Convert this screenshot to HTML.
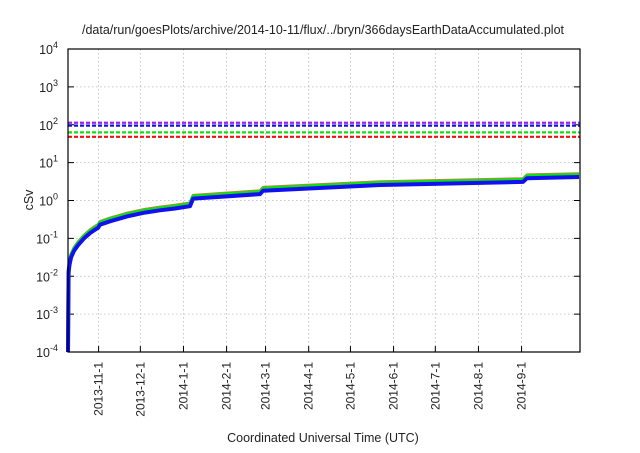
<!DOCTYPE html>
<html><head><meta charset="utf-8"><style>
body{margin:0;background:#fff;width:640px;height:448px;overflow:hidden}
svg text{font-family:"Liberation Sans",Arial,sans-serif;fill:#222}
</style></head><body>
<svg id="chart" width="640" height="448" viewBox="0 0 640 448" xmlns="http://www.w3.org/2000/svg">
<text x="323" y="34" font-size="12.5" text-anchor="middle">/data/run/goesPlots/archive/2014-10-11/flux/../bryn/366daysEarthDataAccumulated.plot</text>
<text transform="translate(33,200) rotate(-90)" font-size="12.5" text-anchor="middle">cSv</text>
<text x="323" y="442" font-size="12.5" text-anchor="middle">Coordinated Universal Time (UTC)</text>
<g id="grid"></g><g id="ticks"></g><g id="series"></g>
<rect x="68" y="49" width="512" height="303" fill="none" stroke="#000" stroke-width="1.2"/>
</svg>
<script>
const tickLabels=["2013-11-1","2013-12-1","2014-1-1","2014-2-1","2014-3-1","2014-4-1","2014-5-1","2014-6-1","2014-7-1","2014-8-1","2014-9-1"];
const tickDays=[22,52,83,114,142,173,203,234,264,295,326];
const yDecades=[-4,-3,-2,-1,0,1,2,3,4];
const days=[0,0.4,1.1,2.2,4.3,7.2,11.5,15.8,19.4,21.6,23,30.2,42.4,55.3,66.1,76.9,87.7,89.9,138,140.2,224.3,327,329.9,367.3];
const blueLog=[-4,-1.9,-1.7,-1.5,-1.33,-1.18,-1.0,-0.86,-0.77,-0.72,-0.64,-0.55,-0.42,-0.32,-0.26,-0.21,-0.15,0.05,0.17,0.26,0.41,0.49,0.59,0.62];
const limitNames=["limit-purple","limit-blue","limit-green","limit-red"];
const limitValues=[113,95,63,48];
const limitColors=["#a020f0","#1010e0","#10e010","#f01010"];
const X0=68,X1=580,Y0=49,Y1=352,DMAX=368;
const xs=d=>X0+(d/DMAX)*(X1-X0);
const ys=l=>Y1-(l+4)/8*(Y1-Y0);
const NS="http://www.w3.org/2000/svg";
function mk(t,p,a){const e=document.createElementNS(NS,t);for(const k in a)e.setAttribute(k,a[k]);p.appendChild(e);return e;}
const grid=document.getElementById('grid'),ticks=document.getElementById('ticks'),series=document.getElementById('series');
yDecades.forEach(d=>{const y=ys(d);
 if(d>-4&&d<4){const g=mk('line',grid,{x1:X0,x2:X1,y1:y,y2:y,stroke:'#bbb','stroke-width':0.8,'stroke-dasharray':'1.5,2.5'});
 }
 const t=mk('line',ticks,{x1:X0,x2:X0+6,y1:y,y2:y,stroke:'#000'});
 const t2=mk('line',ticks,{x1:X1-6,x2:X1,y1:y,y2:y,stroke:'#000'});
 const tx=mk('text',ticks,{x:58,y:y+5,'font-size':12.5,'text-anchor':'end'});
 
 tx.textContent='10';const s=mk('tspan',tx,{dy:-6,'font-size':9});s.textContent=String(d);
});
tickDays.forEach((d,i)=>{const x=xs(d);
 const g=mk('line',grid,{x1:x,x2:x,y1:Y0,y2:Y1,stroke:'#bbb','stroke-width':0.8,'stroke-dasharray':'1.5,2.5'});
 
 const t=mk('line',ticks,{x1:x,x2:x,y1:Y1-6,y2:Y1,stroke:'#000'});
 const tx=mk('text',ticks,{transform:`translate(${x+4},362) rotate(-90)`,'font-size':12,'text-anchor':'end'});
 
 tx.textContent=tickLabels[i];
});
limitValues.forEach((v,i)=>{const y=ys(Math.log10(v));
 const l=mk('line',series,{x1:X0,x2:X1,y1:y,y2:y,stroke:limitColors[i],'stroke-width':2.2,'stroke-dasharray':'4,2'});
 
});
function path(off){return days.map((d,i)=>(i?'L':'M')+xs(d).toFixed(1)+','+ys(i?blueLog[i]+off:blueLog[i]).toFixed(1)).join('');}
const r=mk('path',series,{d:path(0.085),fill:'none',stroke:'#e07050','stroke-width':3,'stroke-linejoin':'round'});

const g=mk('path',series,{d:path(0.055),fill:'none',stroke:'#10e010','stroke-width':4,'stroke-linejoin':'round'});

const b=mk('path',series,{d:path(0),fill:'none',stroke:'#1010f0','stroke-width':4,'stroke-linejoin':'round'});

</script>
</body></html>
